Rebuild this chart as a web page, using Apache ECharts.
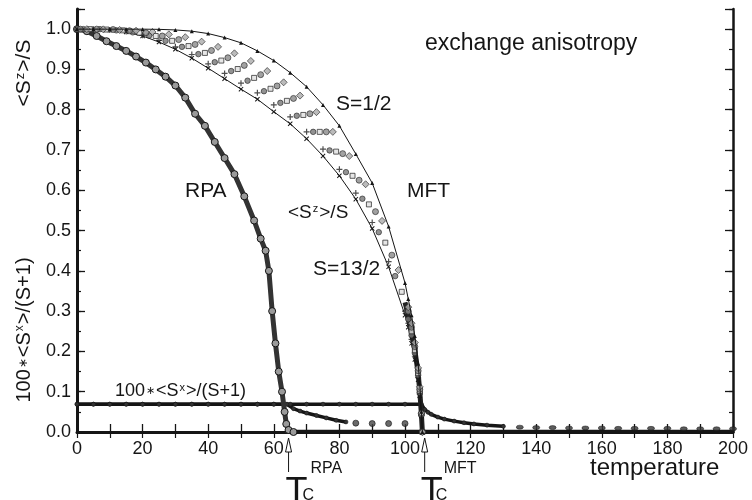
<!DOCTYPE html>
<html>
<head>
<meta charset="utf-8">
<script src="https://cdn.jsdelivr.net/npm/echarts@6/dist/echarts.min.js"></script>
<style>
  html, body { margin: 0; padding: 0; background: #fff; }
  #chart { width: 752px; height: 500px; }
</style>
</head>
<body>
<div id="chart"></div>
<script>
// Mean-field (MFT) <Sz>/S, S = 1/2 (line + triangles) and S = 13/2 (line + crosses)
const tMFT = [0, 5, 10, 15, 20, 25, 30, 35, 40, 45, 50, 55, 60, 65, 70, 75, 80, 85, 90, 95, 100, 101, 102, 103, 104, 104.5, 105, 105.3];
const mftS1_2  = [1.0, 1.0, 1.0, 1.0, 1.0, 0.9995, 0.998, 0.995, 0.989, 0.979, 0.966, 0.946, 0.922, 0.892, 0.857, 0.812, 0.76, 0.69, 0.618, 0.51, 0.37, 0.33, 0.29, 0.238, 0.17, 0.12, 0.05, 0];
const mftS13_2 = [1.0, 1.0, 0.998, 0.993, 0.983, 0.968, 0.95, 0.928, 0.903, 0.877, 0.851, 0.826, 0.795, 0.765, 0.728, 0.685, 0.636, 0.578, 0.505, 0.41, 0.29, 0.26, 0.22, 0.18, 0.13, 0.09, 0.04, 0];
// S = 7/2 (plus)
const tS7_2  = [0, 5, 10, 15, 20, 25, 30, 35, 40, 45, 50, 55, 60, 65, 70, 75, 80, 85, 90, 95, 100, 101, 102, 103, 104, 104.5, 105, 105.3];
const mftS7_2 = [1.0, 1.0, 0.998, 0.994, 0.985, 0.972, 0.956, 0.937, 0.914, 0.890, 0.866, 0.842, 0.812, 0.782, 0.745, 0.702, 0.652, 0.593, 0.520, 0.423, 0.300, 0.27, 0.23, 0.188, 0.135, 0.094, 0.041, 0];
// S = 5/2 (dark circle)
const tS5_2  = [2, 7, 12, 17, 22, 27, 32, 37, 42, 47, 52, 57, 62, 67, 72, 77, 82, 87, 92, 97, 101, 102, 103, 104, 104.5, 105, 105.3];
const mftS5_2 = [1.0, 1.0, 0.997, 0.992, 0.984, 0.971, 0.956, 0.938, 0.918, 0.896, 0.872, 0.846, 0.817, 0.785, 0.745, 0.699, 0.645, 0.579, 0.496, 0.387, 0.28, 0.24, 0.196, 0.141, 0.098, 0.043, 0];
// S = 2 (square)
const tS2  = [4, 9, 14, 19, 24, 29, 34, 39, 44, 49, 54, 59, 64, 69, 74, 79, 84, 89, 94, 99, 102, 103, 104, 104.5, 105, 105.3];
const mftS2 = [1.0, 0.999, 0.997, 0.991, 0.983, 0.971, 0.958, 0.941, 0.922, 0.901, 0.879, 0.852, 0.822, 0.787, 0.745, 0.696, 0.636, 0.565, 0.470, 0.348, 0.25, 0.203, 0.146, 0.102, 0.044, 0];
// S = 3/2 (light circle)
const tS3_2  = [1, 6, 11, 16, 21, 26, 31, 36, 41, 46, 51, 56, 61, 66, 71, 76, 81, 86, 91, 96, 101, 102, 103, 104, 104.5, 105, 105.3];
const mftS3_2 = [1.0, 1.0, 0.999, 0.996, 0.991, 0.983, 0.974, 0.962, 0.947, 0.929, 0.910, 0.887, 0.859, 0.828, 0.790, 0.745, 0.691, 0.625, 0.547, 0.439, 0.30, 0.26, 0.212, 0.152, 0.106, 0.045, 0];
// S = 1 (diamond)
const tS1  = [3, 8, 13, 18, 23, 28, 33, 38, 43, 48, 53, 58, 63, 68, 73, 78, 83, 88, 93, 98, 101, 102, 103, 104, 104.5, 105, 105.3];
const mftS1 = [1.0, 0.9995, 0.998, 0.996, 0.993, 0.987, 0.980, 0.969, 0.956, 0.940, 0.921, 0.896, 0.868, 0.835, 0.794, 0.745, 0.685, 0.615, 0.524, 0.402, 0.31, 0.27, 0.222, 0.159, 0.112, 0.047, 0];
// crowded part of the MFT family close to Tc
const tCore = [100, 101, 102, 103, 104, 104.5, 105, 105.3];
const mftCore = [0.322, 0.29, 0.25, 0.203, 0.146, 0.102, 0.044, 0];

// RPA <Sz>/S (all spins nearly coincide)
const tRPA  = [0, 3, 6, 9, 12, 15, 18, 21, 24, 27, 30, 33, 36, 39, 42, 45, 48, 51, 54, 56, 57.5, 58.5, 59.5, 60.5, 61.5, 62.5, 63.3, 63.8, 64.5, 66];
const rpaSz = [1.0, 0.995, 0.983, 0.97, 0.958, 0.946, 0.932, 0.917, 0.9, 0.882, 0.86, 0.83, 0.79, 0.76, 0.72, 0.68, 0.64, 0.585, 0.525, 0.48, 0.45, 0.40, 0.30, 0.22, 0.15, 0.10, 0.05, 0.02, 0.005, 0];

// <Sz> above Tc
const tZero = [64.5, 70, 80, 90, 100, 105.3, 120, 140, 160, 180, 200];
const zeroSz = [0.002, 0.002, 0.002, 0.002, 0.002, 0.002, 0.002, 0.002, 0.002, 0.002, 0.002];

// 100*<Sx>/(S+1), RPA
const tSxRPA  = [0, 5, 10, 15, 20, 25, 30, 35, 40, 45, 50, 55, 60, 64, 66, 68, 70, 73, 76, 79, 82];
const sxRPA   = [0.069, 0.069, 0.069, 0.069, 0.069, 0.069, 0.069, 0.069, 0.069, 0.069, 0.069, 0.069, 0.069, 0.069, 0.058, 0.052, 0.047, 0.041, 0.035, 0.029, 0.025];
const tSxRPAdots = [85, 90, 95, 100];
const sxRPAdots  = [0.022, 0.021, 0.021, 0.021];
// 100*<Sx>/(S+1), MFT
const tSxMFT = [0, 5, 10, 15, 20, 25, 30, 35, 40, 45, 50, 55, 60, 65, 70, 75, 80, 85, 90, 95, 100, 105, 106, 107, 108, 110, 112, 115, 118, 121, 125, 130];
const sxMFT  = [0.069, 0.069, 0.069, 0.069, 0.069, 0.069, 0.069, 0.069, 0.069, 0.069, 0.069, 0.069, 0.069, 0.069, 0.069, 0.069, 0.069, 0.069, 0.069, 0.069, 0.069, 0.069, 0.056, 0.049, 0.044, 0.037, 0.032, 0.027, 0.023, 0.020, 0.017, 0.014];
const tSxMFTdots = [135, 140, 145, 150, 155, 160, 165, 170, 175, 180, 185, 190, 195, 200];
const sxMFTdots  = [0.012, 0.011, 0.011, 0.010, 0.010, 0.010, 0.009, 0.009, 0.009, 0.009, 0.008, 0.008, 0.008, 0.008];

// Axis tick values
const xTicks = [0, 20, 40, 60, 80, 100, 120, 140, 160, 180, 200];
const yTicks = [0.0, 0.1, 0.2, 0.3, 0.4, 0.5, 0.6, 0.7, 0.8, 0.9, 1.0];

const zip = (xs, ys) => xs.map((x, i) => [x, ys[i]]);
const FONT = 'Liberation Sans, Arial, Helvetica, sans-serif';
const INK = '#151515';

const PLUS = 'path://M4,0h2v10h-2zM0,4h10v2h-10z';
const CROSS = 'path://M1.4,0L10,8.6L8.6,10L0,1.4zM8.6,0L10,1.4L1.4,10L0,8.6z';

const chart = echarts.init(document.getElementById('chart'), null, { renderer: 'canvas' });

const xBase = { type: 'value', min: 0, max: 200, interval: 10, splitLine: { show: false } };
const yBase = { type: 'value', min: 0, max: 1.05, splitLine: { show: false } };

const option = {
  backgroundColor: '#ffffff',
  animation: false,
  grid: { left: 77, right: 19, top: 9, bottom: 68, containLabel: false },
  xAxis: [
    Object.assign({}, xBase, {
      position: 'bottom',
      axisLine: { lineStyle: { color: INK, width: 3 } },
      axisTick: { inside: true, length: 8, lineStyle: { color: INK, width: 1.3 } },
      axisLabel: {
        fontFamily: FONT, fontSize: 18, color: INK, margin: 8,
        formatter: v => (xTicks.indexOf(v) >= 0 ? String(v) : '')
      }
    }),
    Object.assign({}, xBase, {
      position: 'top',
      axisLine: { lineStyle: { color: INK, width: 2 } },
      axisTick: { inside: true, length: 6, lineStyle: { color: INK, width: 1.2 } },
      axisLabel: { show: false }
    })
  ],
  yAxis: [
    Object.assign({}, yBase, {
      position: 'left', interval: 0.1,
      axisLine: { lineStyle: { color: INK, width: 3 } },
      axisTick: { inside: true, length: 8, lineStyle: { color: INK, width: 1.3 } },
      axisLabel: {
        fontFamily: FONT, fontSize: 18, color: INK, margin: 6,
        formatter: v => (yTicks.some(t => Math.abs(t - v) < 1e-6) ? v.toFixed(1) : '')
      }
    }),
    Object.assign({}, yBase, {
      position: 'left', interval: 0.05,
      axisLine: { show: false },
      axisTick: { inside: true, length: 4, lineStyle: { color: INK, width: 1.2 } },
      axisLabel: { show: false }
    }),
    Object.assign({}, yBase, {
      position: 'right', interval: 0.1,
      axisLine: { lineStyle: { color: INK, width: 2.5 } },
      axisTick: { inside: true, length: 8, lineStyle: { color: INK, width: 1.3 } },
      axisLabel: { show: false }
    }),
    Object.assign({}, yBase, {
      position: 'right', interval: 0.05,
      axisLine: { show: false },
      axisTick: { inside: true, length: 4, lineStyle: { color: INK, width: 1.2 } },
      axisLabel: { show: false }
    })
  ],
  series: [
    // <Sx> plateaus and tails
    { type: 'line', data: zip(tSxMFT, sxMFT), symbol: 'circle', symbolSize: 4,
      itemStyle: { color: '#333', borderColor: INK, borderWidth: 0.6 }, lineStyle: { color: INK, width: 3.5 }, z: 3 },
    { type: 'scatter', data: zip(tSxMFTdots, sxMFTdots), symbol: 'circle', symbolSize: [7, 4],
      itemStyle: { color: '#333', borderColor: INK, borderWidth: 0.6 }, z: 3 },
    { type: 'line', data: zip(tSxRPA, sxRPA), symbol: 'circle', symbolSize: 4,
      itemStyle: { color: '#333', borderColor: INK, borderWidth: 0.6 }, lineStyle: { color: INK, width: 3.5 }, z: 3 },
    { type: 'scatter', data: zip(tSxRPAdots, sxRPAdots), symbol: 'circle', symbolSize: 6,
      itemStyle: { color: '#444', borderColor: INK, borderWidth: 0.8 }, z: 3 },
    // zero magnetisation above Tc
    { type: 'line', data: zip(tZero, zeroSz), showSymbol: false, lineStyle: { color: INK, width: 3 }, z: 3 },
    // RPA band
    { type: 'line', data: zip(tRPA, rpaSz), symbol: 'circle', symbolSize: 7,
      itemStyle: { color: '#9a9a9a', borderColor: INK, borderWidth: 1 }, lineStyle: { color: '#333', width: 5 }, z: 4 },
    // MFT band near Tc
    { type: 'line', data: zip(tCore, mftCore), showSymbol: false, lineStyle: { color: '#222', width: 5 }, z: 4 },
    // MFT curves
    { type: 'line', data: zip(tMFT, mftS13_2), symbol: CROSS, symbolSize: 5,
      itemStyle: { color: INK }, lineStyle: { color: INK, width: 1 }, z: 5 },
    { type: 'scatter', data: zip(tS7_2, mftS7_2), symbol: PLUS, symbolSize: 6,
      itemStyle: { color: '#222' }, z: 5 },
    { type: 'scatter', data: zip(tS5_2, mftS5_2), symbol: 'circle', symbolSize: 5.5,
      itemStyle: { color: '#777', borderColor: '#222', borderWidth: 0.8 }, z: 5 },
    { type: 'scatter', data: zip(tS2, mftS2), symbol: 'rect', symbolSize: 5,
      itemStyle: { color: '#e0e0e0', borderColor: '#222', borderWidth: 0.9 }, z: 5 },
    { type: 'scatter', data: zip(tS3_2, mftS3_2), symbol: 'circle', symbolSize: 6,
      itemStyle: { color: '#8a8a8a', borderColor: '#222', borderWidth: 0.8 }, z: 5 },
    { type: 'scatter', data: zip(tS1, mftS1), symbol: 'diamond', symbolSize: 7,
      itemStyle: { color: '#aaa', borderColor: '#222', borderWidth: 0.8 }, z: 5 },
    { type: 'line', data: zip(tMFT, mftS1_2), symbol: 'triangle', symbolSize: 4,
      itemStyle: { color: INK }, lineStyle: { color: INK, width: 1 }, z: 6 }
  ]
};
chart.setOption(option);

// Text annotations and Tc arrows
function txt(x, y, text, size) {
  return { type: 'text', x: x, y: y, z: 100,
    style: { text: text, fontFamily: FONT, fontSize: size, fill: INK } };
}
const supRich = (size) => ({
  n: { fontFamily: FONT, fontSize: size, fill: INK },
  s: { fontFamily: FONT, fontSize: Math.round(size * 0.6), fill: INK, verticalAlign: 'top', padding: [0, 1, 0, 1] },
  a: { fontFamily: FONT, fontSize: Math.round(size * 0.6), fill: INK, padding: [0, 1, 0, 1] }
});

const p1 = chart.convertToPixel({ xAxisIndex: 0, yAxisIndex: 0 }, [64.5, 0]);
const p2 = chart.convertToPixel({ xAxisIndex: 0, yAxisIndex: 0 }, [106, 0]);

function arrow(x) {
  return [
    { type: 'line', z: 100, shape: { x1: x, y1: 452, x2: x, y2: 472 }, style: { stroke: INK, lineWidth: 1 } },
    { type: 'polygon', z: 100, shape: { points: [[x, 438], [x - 3, 452], [x + 3, 452]] },
      style: { fill: '#fff', stroke: INK, lineWidth: 1 } }
  ];
}

function tcLabel(x, dxT, dxSup, dxSub, sup) {
  return [
    txt(x + dxT, 475, 'T', 36),
    txt(x + dxSup, 461, sup, 16),
    txt(x + dxSub, 488, 'C', 16)
  ];
}

const graphics = [
  txt(425, 32, 'exchange anisotropy', 23),
  txt(336, 94, 'S=1/2', 21),
  txt(185, 181, 'RPA', 21),
  txt(407, 181, 'MFT', 21),
  { type: 'text', x: 288, y: 203, z: 100,
    style: { text: '{n|<S}{s|z}{n|>/S}', rich: supRich(19) } },
  txt(313, 259, 'S=13/2', 21),
  { type: 'text', x: 115, y: 382, z: 100,
    style: { text: '{n|100}{a|∗}{n|<S}{s|x}{n|>/(S+1)}', rich: supRich(18) } },
  txt(590, 456, 'temperature', 24),
  // rotated axis titles
  { type: 'text', x: 24, y: 73, rotation: Math.PI / 2, z: 100,
    style: { text: '{n|<S}{s|z}{n|>/S}', rich: supRich(21), align: 'center', verticalAlign: 'middle' } },
  { type: 'text', x: 24, y: 330, rotation: Math.PI / 2, z: 100,
    style: { text: '{n|100}{a|∗}{n|<S}{s|x}{n|>/(S+1)}', rich: supRich(20), align: 'center', verticalAlign: 'middle' } }
].concat(
  tcLabel(p1[0], -3, 22, 14, 'RPA'),
  tcLabel(p2[0], -4, 19, 11, 'MFT'),
  arrow(p1[0]), arrow(p2[0])
);

chart.setOption({ graphic: graphics });
</script>
</body>
</html>
